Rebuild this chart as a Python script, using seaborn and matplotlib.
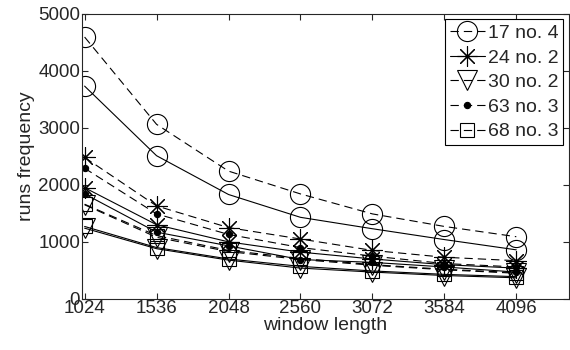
import matplotlib
matplotlib.use('Agg')
import matplotlib.pyplot as plt
import seaborn as sns
import pandas as pd

# ===== dados =====
window_len = [1024, 1536, 2048, 2560, 3072, 3584, 4096]

# conjunto tracejado (curvas de cima)
s17_a = [4590, 3060, 2240, 1840, 1490, 1270, 1090]
s24_a = [2480, 1630, 1250, 1050, 850, 730, 670]
s30_a = [1650, 1080, 830, 690, 590, 510, 450]
s63_a = [2290, 1490, 1130, 900, 750, 620, 560]
s68_a = [1660, 1110, 850, 710, 600, 520, 460]

# conjunto contínuo (curvas de baixo)
s17_b = [3730, 2510, 1830, 1430, 1230, 1040, 860]
s24_b = [1950, 1300, 1000, 820, 700, 600, 540]
s30_b = [1240, 880, 680, 540, 470, 410, 370]
s63_b = [1840, 1170, 930, 690, 640, 560, 470]
s68_b = [1270, 900, 700, 570, 490, 430, 390]

labels = ['17 no. 4', '24 no. 2', '30 no. 2', '63 no. 3', '68 no. 3']
series_a = [s17_a, s24_a, s30_a, s63_a, s68_a]
series_b = [s17_b, s24_b, s30_b, s63_b, s68_b]

# ===== estilo =====
sns.set_style('ticks')
plt.rcParams['font.family'] = ['Liberation Sans', 'DejaVu Sans']
plt.rcParams['lines.scale_dashes'] = False

DASH = (0, (6, 3.6))
markers = {
    '17 no. 4': dict(marker='o', markersize=14.5, mfc='none'),
    '24 no. 2': dict(marker=(8, 2, 0), markersize=14.5, mfc='none'),
    '30 no. 2': dict(marker='v', markersize=14.5, mfc='none'),
    '63 no. 3': dict(marker='o', markersize=4.5, mfc='k'),
    '68 no. 3': dict(marker='s', markersize=10.5, mfc='none'),
}
legend_ls = {'17 no. 4': DASH, '24 no. 2': '-', '30 no. 2': DASH,
             '63 no. 3': DASH, '68 no. 3': DASH}

fig = plt.figure(figsize=(5.7, 3.5), dpi=100)
ax = fig.add_axes([0.143, 0.146, 0.855, 0.815])

for lab, ya, yb in zip(labels, series_a, series_b):
    df = pd.DataFrame({'x': window_len, 'a': ya, 'b': yb})
    sns.lineplot(data=df, x='x', y='a', ax=ax, color='k', linestyle=DASH,
                 linewidth=0.8, mec='k', mew=0.8, **markers[lab])
    sns.lineplot(data=df, x='x', y='b', ax=ax, color='k', linestyle='-',
                 linewidth=0.8, mec='k', mew=0.8, **markers[lab])

handles = [plt.Line2D([], [], color='k', linestyle=legend_ls[lab], linewidth=0.8,
                      mec='k', mew=0.8, **markers[lab]) for lab in labels]
leg = ax.legend(handles, labels, loc='upper right', fontsize=14, frameon=True,
                fancybox=False, edgecolor='k', framealpha=1, borderaxespad=0.3,
                handlelength=1.8, handletextpad=0.15, labelspacing=0.36,
                borderpad=0.25)
leg.get_frame().set_linewidth(0.8)

ax.set_xlim(1002, 4470)
ax.set_ylim(0, 5000)
ax.set_xticks(window_len)
ax.set_yticks([0, 1000, 2000, 3000, 4000, 5000])
ax.set_xlabel('window length', fontsize=14, labelpad=0)
ax.set_ylabel('runs frequency', fontsize=14, labelpad=2)
ax.tick_params(direction='in', top=True, right=True, labelsize=13.5,
               length=4, width=0.8, pad=1)
for sp in ax.spines.values():
    sp.set_visible(True)
    sp.set_linewidth(0.8)

fig.savefig('out.png', dpi=100)
